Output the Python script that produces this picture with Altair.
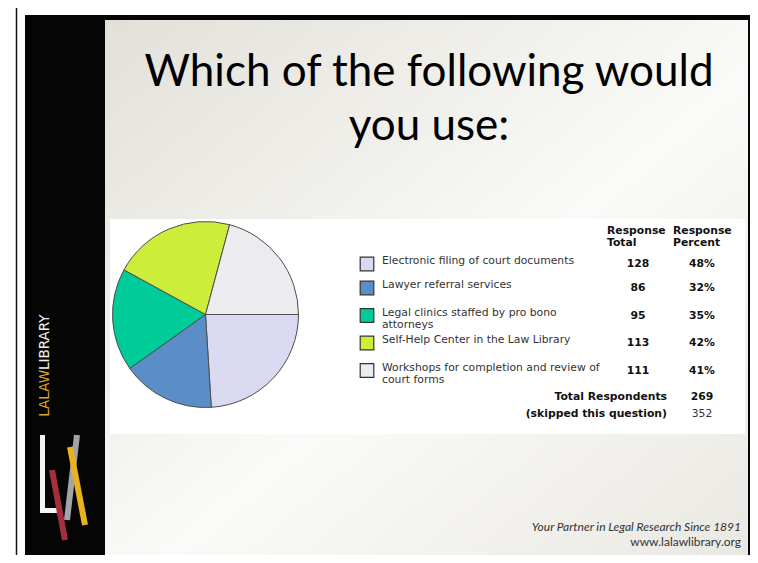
import math
import altair as alt
import pandas as pd

# ---------------- data ----------------
categories = [
    "Electronic filing of court documents",
    "Lawyer referral services",
    "Legal clinics staffed by pro bono attorneys",
    "Self-Help Center in the Law Library",
    "Workshops for completion and review of court forms",
]
labels = [
    "Electronic filing of court documents",
    "Lawyer referral services",
    "Legal clinics staffed by pro bono\nattorneys",
    "Self-Help Center in the Law Library",
    "Workshops for completion and review of\ncourt forms",
]
totals = [128, 86, 95, 113, 111]
percents = ["48%", "32%", "35%", "42%", "41%"]
colors = ["#d9d9f2", "#5b8ec6", "#00cc99", "#ccee3a", "#ebebf0"]
total_respondents = 269
skipped = 352
title_lines = ["Which of the following would", "you use:"]
footer_lines = ["Your Partner in Legal Research Since 1891", "www.lalawlibrary.org"]

df = pd.DataFrame({
    "category": categories,
    "label": labels,
    "total": totals,
    "percent": percents,
    "idx": list(range(len(categories))),
})

O = 8  # page margin offset


def px(v):
    return v - O


dummy = alt.Data(values=[{"a": 1}])


def box(x1, x2, y1, y2, color):
    return alt.Chart(dummy).mark_rect(color=color).encode(
        x=alt.value(px(x1)), x2=alt.value(px(x2)),
        y=alt.value(px(y1)), y2=alt.value(px(y2)))


def bar(x1, y1, x2, y2, color, w):
    return alt.Chart(dummy).mark_rule(color=color, strokeWidth=w, strokeCap="butt").encode(
        x=alt.value(px(x1)), x2=alt.value(px(x2)),
        y=alt.value(px(y1)), y2=alt.value(px(y2)))


def txt(s, x, y, **kw):
    return alt.Chart(dummy).mark_text(text=s, **kw).encode(
        x=alt.value(px(x)), y=alt.value(px(y)))


# ---------------- slide frame ----------------
layers = []
layers.append(bar(16.5, 0, 16.5, 563, "#111111", 1.5))
layers.append(box(25, 752, 15, 560, "#050505"))
grad = alt.LinearGradient(
    gradient="linear",
    stops=[alt.GradientStop(color="#e2e0d8", offset=0),
           alt.GradientStop(color="#fafaf8", offset=0.55),
           alt.GradientStop(color="#eae8e2", offset=1)],
    x1=0, y1=0, x2=1, y2=1)
layers.append(alt.Chart(dummy).mark_rect(color=grad).encode(
    x=alt.value(px(105)), x2=alt.value(px(748)),
    y=alt.value(px(20)), y2=alt.value(px(555))))
layers.append(box(110, 745, 219, 434, "#ffffff"))

# logo
layers.append(txt("LALAW", 45, 370, angle=270, align="right", baseline="middle",
                  font="DejaVu Sans", fontSize=13.5, color="#d9a521"))
layers.append(txt("LIBRARY", 45, 370, angle=270, align="left", baseline="middle",
                  font="DejaVu Sans", fontSize=13.5, color="#f2f2f2"))
layers.append(bar(42.5, 435, 42.5, 513, "#f4f4f4", 5))
layers.append(bar(40, 510.5, 57, 510.5, "#f4f4f4", 5))
layers.append(bar(52, 470, 65, 540, "#a3303c", 6))
layers.append(bar(77, 435, 67, 520, "#a3a3a8", 6))
layers.append(bar(70, 447, 85, 525, "#e8b21e", 6))

# title
layers.append(txt(title_lines[0], 429, 86, align="center", baseline="alphabetic",
                  font="Lato", fontSize=44, color="#000000"))
layers.append(txt(title_lines[1], 429, 140, align="center", baseline="alphabetic",
                  font="Lato", fontSize=44, color="#000000"))

# footer
layers.append(txt(footer_lines[0], 741, 531, align="right", baseline="alphabetic",
                  font="Lato", fontSize=12, fontStyle="italic", color="#333333"))
layers.append(txt(footer_lines[1], 741, 546, align="right", baseline="alphabetic",
                  font="Lato", fontSize=12, color="#333333"))

# ---------------- pie ----------------
color_enc = alt.Color("category:N", scale=alt.Scale(domain=categories, range=colors), legend=None)
pie = alt.Chart(df).mark_arc(radius=93, stroke="#4d4d4d", strokeWidth=1).encode(
    theta=alt.Theta("total:Q", stack=True,
                    scale=alt.Scale(range=[math.pi / 2, math.pi / 2 + 2 * math.pi])),
    color=color_enc,
    order=alt.Order("idx:Q"),
    x=alt.value(px(205.5)),
    y=alt.value(px(314.5)),
)
layers.append(pie)

# ---------------- table ----------------
# row position derived from the number of label lines (taller rows for wrapped labels)
table_base = alt.Chart(df).transform_calculate(
    nlines="length(split(datum.label, '\\n'))"
).transform_calculate(
    hh="8.5 + 3.5 * datum.nlines"
).transform_window(
    cum="sum(hh)", sort=[alt.SortField("idx")]
).transform_joinaggregate(
    first_hh="min(hh)"
).transform_calculate(
    pos="2 * datum.cum - datum.hh - 12"
)
y_enc = alt.Y("pos:Q", scale=alt.Scale(domain=[0, 100], range=[px(264), px(364)]), axis=None)
FONT = "DejaVu Sans"
FS = 10.8
layers.append(table_base.mark_square(size=185, filled=True, opacity=1, stroke="#333333",
                                      strokeWidth=1.2).encode(
    x=alt.value(px(367)), y=y_enc, color=color_enc))
layers.append(table_base.mark_text(align="left", baseline="top", lineBreak="\n",
                                    lineHeight=12, font=FONT, fontSize=FS,
                                    color="#333333", dy=-9).encode(
    x=alt.value(px(382)), y=y_enc, text="label:N"))
layers.append(table_base.mark_text(align="center", baseline="middle", font=FONT,
                                    fontSize=FS, fontWeight="bold", color="#111111").encode(
    x=alt.value(px(638)), y=y_enc, text="total:Q"))
layers.append(table_base.mark_text(align="center", baseline="middle", font=FONT,
                                    fontSize=FS, fontWeight="bold", color="#111111").encode(
    x=alt.value(px(702)), y=y_enc, text="percent:N"))

layers.append(txt("Response\nTotal", 607, 224.5, align="left", baseline="top", lineBreak="\n",
                  lineHeight=12, font=FONT, fontSize=FS, fontWeight="bold", color="#111111"))
layers.append(txt("Response\nPercent", 673, 224.5, align="left", baseline="top", lineBreak="\n",
                  lineHeight=12, font=FONT, fontSize=FS, fontWeight="bold", color="#111111"))
layers.append(txt("Total Respondents", 667, 397, align="right", baseline="middle",
                  font=FONT, fontSize=FS, fontWeight="bold", color="#111111"))
layers.append(txt(str(total_respondents), 702, 397, align="center", baseline="middle",
                  font=FONT, fontSize=FS, fontWeight="bold", color="#111111"))
layers.append(txt("(skipped this question)", 667, 414, align="right", baseline="middle",
                  font=FONT, fontSize=FS, fontWeight="bold", color="#111111"))
layers.append(txt(str(skipped), 702, 414, align="center", baseline="middle",
                  font=FONT, fontSize=FS, color="#333333"))

chart = alt.layer(*layers).properties(
    width=742, height=547, padding=0, autosize="none", background="#ffffff"
).configure_view(stroke=None)

chart.save("out.html", embed_options={"renderer": "svg", "actions": False})
